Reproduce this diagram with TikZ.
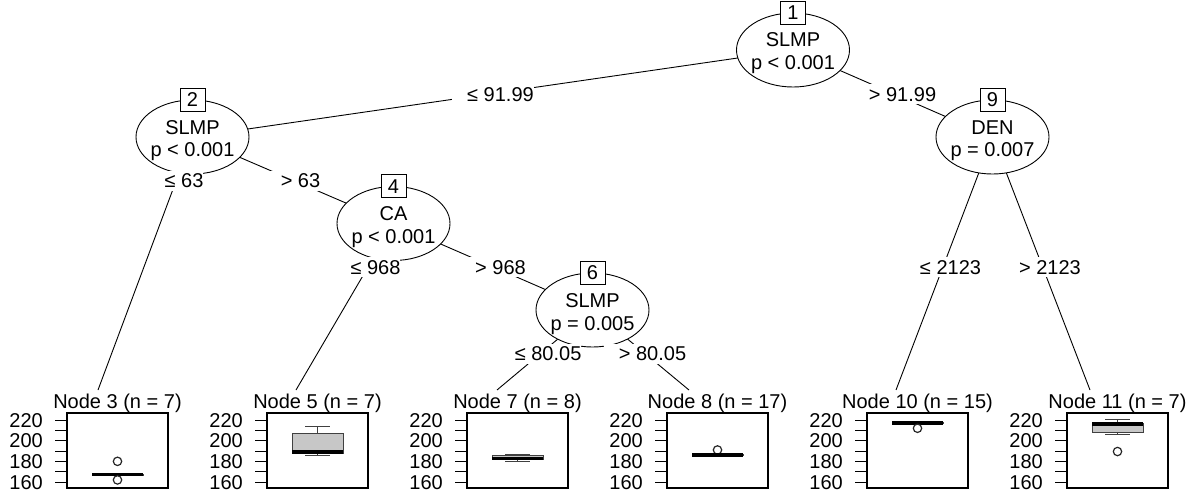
\documentclass[tikz,border=0pt]{standalone}
\usepackage{fontspec}
\setmainfont{Liberation Sans}
\usetikzlibrary{shapes.geometric}
\pgfdeclarelayer{background}
\pgfsetlayers{background,main}

% vertical position of a response value inside a leaf panel
\newcommand\Y[1]{482-(#1-160)*1.03333}

% leaf panel: frame, title and y axis (#1 id, #2 centre x, #3 title)
\newcommand\leafpanel[3]{%
  \foreach \v in {160,170,...,220}
    \draw[tickline] ({#2-62.5},{\Y{\v}}) -- ({#2-50.5},{\Y{\v}});
  \foreach \v in {160,180,200,220}
    \node[ylab] (y#1-\v) at ({#2-74.5},{\Y{\v}}) {\v};
  \node[frame] (f#1) at (#2,450.5) {};
  \node[ttl] (t#1) at (#2,408) {#3};
}

% box and whiskers (#1 centre x, #2 low, #3 q1, #4 median, #5 q3, #6 high)
\newcommand\boxwhisk[6]{%
  \draw[whisk] ({#1},{\Y{#2}}) -- ({#1},{\Y{#3}}) ({#1},{\Y{#5}}) -- ({#1},{\Y{#6}});
  \draw[whisk] ({#1-12.5},{\Y{#2}}) -- ({#1+12.5},{\Y{#2}})
               ({#1-12.5},{\Y{#6}}) -- ({#1+12.5},{\Y{#6}});
  \filldraw[boxst] ({#1-25.5},{\Y{#3}}) rectangle ({#1+25.5},{\Y{#5}});
  \draw[medline] ({#1-25.5},{\Y{#4}}) -- ({#1+25.5},{\Y{#4}});
}
\newcommand\outlier[2]{\draw[outl] ({#1},{\Y{#2}}) circle[radius=4.2pt];}

\begin{document}
\begin{tikzpicture}[x=1pt,y=-1pt,
  font=\fontsize{20}{23}\selectfont,
  inner/.style={ellipse,draw,fill=white,minimum width=113pt,minimum height=74pt,
    inner sep=0pt,line width=0.9pt},
  idbox/.style={draw,fill=white,minimum width=25pt,minimum height=23pt,inner sep=0pt,
    line width=0.9pt,text height=14pt,text depth=0pt},
  itext/.style={anchor=base,inner sep=0pt},
  edgeline/.style={line width=0.9pt},
  lbl/.style={fill=white,inner xsep=0pt,inner ysep=3pt,text height=14pt,text depth=0pt},
  frame/.style={draw,line width=1.1pt,minimum width=101pt,minimum height=75pt,inner sep=0pt},
  ttl/.style={anchor=base,inner sep=0pt},
  ylab/.style={anchor=east,inner sep=0pt,text height=14pt,text depth=0pt},
  tickline/.style={line width=0.9pt},
  whisk/.style={line width=1pt,draw=black!75},
  boxst/.style={line width=1pt,draw=black!75,fill=black!22},
  medline/.style={line width=3.4pt,line cap=butt},
  outl/.style={line width=1.2pt,draw=black!85}]

\useasboundingbox (0,0) rectangle (1195,495);

% inner nodes
\node[inner] (n1) at (793,50) {};
\node[inner] (n2) at (192.5,137) {};
\node[inner] (n4) at (393.5,223.5) {};
\node[inner] (n6) at (592.5,310) {};
\node[inner] (n9) at (992.5,137) {};

\node[itext] (n1a) at (793,47) {SLMP};
\node[itext] (n1b) at (793,70) {p < 0.001};
\node[itext] (n2a) at (192.5,134) {SLMP};
\node[itext] (n2b) at (192.5,157) {p < 0.001};
\node[itext] (n4a) at (393.5,220.5) {CA};
\node[itext] (n4b) at (393.5,243.5) {p < 0.001};
\node[itext] (n6a) at (592.5,307) {SLMP};
\node[itext] (n6b) at (592.5,330) {p = 0.005};
\node[itext] (n9a) at (992.5,134) {DEN};
\node[itext] (n9b) at (992.5,157) {p = 0.007};

\node[idbox] (b1) at (n1.north) {1};
\node[idbox] (b2) at (n2.north) {2};
\node[idbox] (b4) at (n4.north) {4};
\node[idbox] (b6) at (n6.north) {6};
\node[idbox] (b9) at (n9.north) {9};

% where the edges meet the leaf panels
\coordinate (l3) at (98,390);
\coordinate (l5) at (296,390);
\coordinate (l7) at (497,390);
\coordinate (l8) at (689,390);
\coordinate (l10) at (896,390);
\coordinate (l11) at (1090,390);

% edges, behind the nodes
\begin{pgfonlayer}{background}
\draw[edgeline] (n1.center) -- (n2.center)
                (n1.center) -- (n9.center)
                (n2.center) -- (l3)
                (n2.center) -- (n4.center)
                (n4.center) -- (l5)
                (n4.center) -- (n6.center)
                (n6.center) -- (l7)
                (n6.center) -- (l8)
                (n9.center) -- (l10)
                (n9.center) -- (l11);
\end{pgfonlayer}

% split labels
\node[lbl] (s12) at (493,94.5) {\hspace*{15pt}≤ 91.99};
\node[lbl] (s19) at (895,94.5) {\hspace*{15pt}> 91.99};
\node[lbl] (s23) at (176.5,180.5) {\hspace*{15pt}≤ 63};
\node[lbl] (s24) at (293,180.5) {\hspace*{15pt}> 63};
\node[lbl] (s45) at (368,267) {\hspace*{15pt}≤ 968};
\node[lbl] (s46) at (493,267) {\hspace*{15pt}> 968};
\node[lbl] (s67) at (540.6,353.5) {\hspace*{15pt}≤ 80.05};
\node[lbl] (s68) at (645,353.5) {\hspace*{15pt}> 80.05};
\node[lbl] (s910) at (943,267) {\hspace*{15pt}≤ 2123};
\node[lbl] (s911) at (1042.5,267) {\hspace*{15pt}> 2123};

% terminal nodes
\leafpanel{3}{117.5}{Node 3 (n = 7)}
\boxwhisk{117.5}{166.5}{166.7}{167}{167.3}{167.5}
\outlier{117.5}{180}
\outlier{117.5}{162}

\leafpanel{5}{317.5}{Node 5 (n = 7)}
\boxwhisk{317.5}{186}{187.5}{189}{207}{214}

\leafpanel{7}{517.5}{Node 7 (n = 8)}
\boxwhisk{517.5}{180}{181.5}{183}{185.5}{187}

\leafpanel{8}{717.5}{Node 8 (n = 17)}
\outlier{717.5}{191}
\boxwhisk{717.5}{184.5}{185.5}{186}{187}{188}

\leafpanel{10}{917.5}{Node 10 (n = 15)}
\boxwhisk{917.5}{216.2}{216.6}{217}{217.4}{217.8}
\outlier{917.5}{212}

\leafpanel{11}{1117.5}{Node 11 (n = 7)}
\boxwhisk{1117.5}{206}{207.5}{216}{216.5}{220.5}
\outlier{1117.5}{189.5}

\end{tikzpicture}
\end{document}
